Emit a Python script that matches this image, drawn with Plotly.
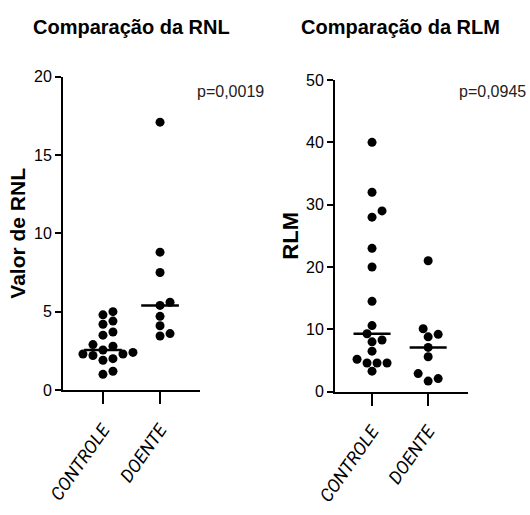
import numpy as np
import plotly.graph_objects as go

# ---- data ----
groups = ["CONTROLE", "DOENTE"]

rnl_controle = [5.0, 4.8, 4.4, 4.2, 3.7, 3.5, 2.9, 2.8, 2.55, 2.4, 2.3, 2.3, 2.2, 2.0, 1.9, 1.2, 1.0]
rnl_doente = [17.1, 8.8, 7.5, 5.6, 5.4, 4.7, 4.1, 3.6, 3.45]

rlm_controle = [40.0, 32.0, 29.0, 28.0, 23.0, 20.0, 14.5, 10.6, 9.3, 8.3, 8.0, 6.5, 5.2, 4.6, 4.6, 4.6, 3.3]
rlm_doente = [21.0, 10.1, 9.2, 8.8, 7.1, 5.6, 2.9, 2.1, 1.7]

p_rnl = "p=0,0019"
p_rlm = "p=0,0945"

rnl_ticks = [0, 5, 10, 15, 20]
rlm_ticks = [0, 10, 20, 30, 40, 50]

W, H = 530, 515
FONT = "Liberation Sans, Arial, sans-serif"
ITALIC_FONT = "Roboto, Open Sans, Liberation Sans, sans-serif"

# panel geometry in pixels: (x_left, x_right, y_top, y_bottom)
panels = {
    "rnl": dict(x0=63, x1=200, ytop=76.7, ybot=390, xr=[-0.7, 1.7], yr=[0, 20]),
    "rlm": dict(x0=335, x1=468, ytop=80, ybot=391.7, xr=[-0.66, 1.71], yr=[0, 50]),
}


def swarm_offsets(values, px_x, px_y, diam=9.0, step=5.0):
    """Simple beeswarm: offset points horizontally so markers don't overlap."""
    order = np.argsort(values)
    placed = []
    offs = np.zeros(len(values))
    cands = [0.0]
    for k in range(1, 12):
        cands += [k * step, -k * step]
    for i in order:
        yp = values[i] * px_y
        for c in cands:
            if all((c - dx) ** 2 + (yp - py) ** 2 >= diam ** 2 for dx, py in placed):
                placed.append((c, yp))
                offs[i] = c / px_x
                break
    return offs


fig = go.Figure()


def add_panel(key, xa, ya, data_sets):
    g = panels[key]
    px_x = (g["x1"] - g["x0"]) / (g["xr"][1] - g["xr"][0])
    px_y = (g["ybot"] - g["ytop"]) / (g["yr"][1] - g["yr"][0])
    for gi, vals in enumerate(data_sets):
        vals = np.array(vals, dtype=float)
        offs = swarm_offsets(vals, px_x, px_y)
        fig.add_trace(go.Scatter(
            x=gi + offs, y=vals, mode="markers",
            marker=dict(color="black", size=9, line=dict(width=0)),
            cliponaxis=False, xaxis=xa, yaxis=ya, hoverinfo="y",
        ))
        med = float(np.median(vals))
        fig.add_trace(go.Scatter(
            x=[gi - 0.33, gi + 0.33], y=[med, med], mode="lines",
            line=dict(color="black", width=2.5),
            cliponaxis=False, xaxis=xa, yaxis=ya, hoverinfo="skip",
        ))


add_panel("rnl", "x", "y", [rnl_controle, rnl_doente])
add_panel("rlm", "x2", "y2", [rlm_controle, rlm_doente])


def xaxis_cfg(g, anchor):
    return dict(
        domain=[g["x0"] / W, g["x1"] / W], range=g["xr"], anchor=anchor,
        automargin=False,
        showline=True, linecolor="black", linewidth=2,
        ticks="outside", ticklen=12, tickwidth=2, tickcolor="black",
        tickvals=[0, 1], ticktext=["<i>" + s + "</i>" for s in groups], tickangle=-55,
        ticklabelstandoff=8,
        tickfont=dict(family=ITALIC_FONT, size=18, color="black", style="italic"),
        showgrid=False, zeroline=False, fixedrange=True,
    )


def yaxis_cfg(g, ticks, anchor, title, tsize, standoff):
    return dict(
        domain=[1 - g["ybot"] / H, 1 - g["ytop"] / H], range=g["yr"], anchor=anchor,
        automargin=False,
        showline=True, linecolor="black", linewidth=2,
        ticks="outside", ticklen=6, tickwidth=2, tickcolor="black",
        tickvals=ticks, tickfont=dict(family=FONT, size=16, color="black"),
        showgrid=False, zeroline=False, fixedrange=True,
        title=dict(text="<b>" + title + "</b>", standoff=standoff,
                   font=dict(family=FONT, size=tsize, color="black")),
    )


ann = [
    dict(text="<b>Comparação da RNL</b>", x=131 / W, y=1 - 27 / H, xanchor="center",
         font=dict(family=FONT, size=20, color="black")),
    dict(text="<b>Comparação da RLM</b>", x=400 / W, y=1 - 27 / H, xanchor="center",
         font=dict(family=FONT, size=20, color="black")),
    dict(text=p_rnl, x=230 / W, y=1 - 91 / H, xanchor="center",
         font=dict(family=FONT, size=16, color="#222")),
    dict(text=p_rlm, x=528 / W, y=1 - 91 / H, xanchor="right",
         font=dict(family=FONT, size=16, color="#222")),
]
for a in ann:
    a.update(xref="paper", yref="paper", showarrow=False, yanchor="middle")

fig.update_layout(
    width=W, height=H, margin=dict(l=0, r=0, t=0, b=0, autoexpand=False),
    paper_bgcolor="white", plot_bgcolor="white", showlegend=False,
    xaxis=xaxis_cfg(panels["rnl"], "y"),
    yaxis=yaxis_cfg(panels["rnl"], rnl_ticks, "x", "Valor de RNL", 21, 3),
    xaxis2=xaxis_cfg(panels["rlm"], "y2"),
    yaxis2=yaxis_cfg(panels["rlm"], rlm_ticks, "x2", "RLM", 22, 1),
    annotations=ann,
)

fig.write_html("out.html")
